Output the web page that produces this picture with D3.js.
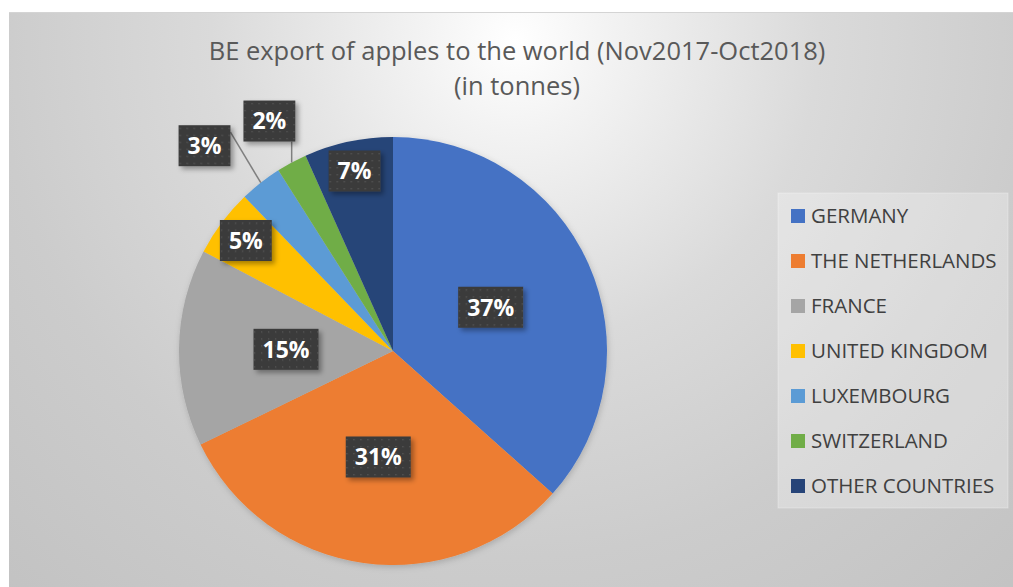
<!DOCTYPE html>
<html>
<head>
<meta charset="utf-8">
<script src="https://cdnjs.cloudflare.com/ajax/libs/d3/7.8.5/d3.min.js"></script>
<style>
  body { margin: 0; background: #fff; }
  svg { display: block; }
</style>
</head>
<body>
<div id="chart-area"></div>
<script>
// data (share of BE apple exports, %)
var categories = ["GERMANY", "THE NETHERLANDS", "FRANCE", "UNITED KINGDOM", "LUXEMBOURG", "SWITZERLAND", "OTHER COUNTRIES"];
var shares = [36.6, 31.2, 14.9, 5.1, 3.2, 2.3, 6.7];
var colours = ["#4472c4", "#ed7d31", "#a5a5a5", "#ffc000", "#5b9bd5", "#70ad47", "#264478"];
var titleLines = ["BE export of apples to the world (Nov2017-Oct2018)", "(in tonnes)"];

var W = 1013, H = 587;
var cx = 393, cy = 351, R = 214;

var svg = d3.select("#chart-area").append("svg")
    .attr("width", W)
    .attr("height", H);

var defs = svg.append("defs");

var bg = defs.append("radialGradient")
    .attr("id", "bg")
    .attr("gradientUnits", "userSpaceOnUse")
    .attr("cx", 515).attr("cy", 40).attr("r", 760);
[[0, "#ffffff"], [0.12, "#f3f3f3"], [0.4, "#dadada"], [0.68, "#cccccc"], [1, "#c2c2c2"]].forEach((s) => {
    bg.append("stop").attr("offset", s[0]).attr("stop-color", s[1]);
});

// dotted dark fill for the data labels
var pat = defs.append("pattern")
    .attr("id", "dots")
    .attr("patternUnits", "userSpaceOnUse")
    .attr("width", 7).attr("height", 7);
pat.append("rect").attr("width", 7).attr("height", 7).attr("fill", "#3b3b3b");
pat.append("rect").attr("x", 3).attr("y", 3).attr("width", 1.3).attr("height", 1.3).attr("fill", "#575757");

var sh = defs.append("filter").attr("id", "shadow")
    .attr("x", "-20%").attr("y", "-20%").attr("width", "150%").attr("height", "150%");
sh.append("feDropShadow").attr("dx", 3).attr("dy", 3).attr("stdDeviation", 2.5)
    .attr("flood-color", "#000").attr("flood-opacity", 0.35);

var psh = defs.append("filter").attr("id", "pieshadow")
    .attr("x", "-10%").attr("y", "-10%").attr("width", "120%").attr("height", "120%");
psh.append("feDropShadow").attr("dx", 1).attr("dy", 2).attr("stdDeviation", 3)
    .attr("flood-color", "#000").attr("flood-opacity", 0.18);

// chart area
svg.append("rect")
    .attr("x", 9).attr("y", 12)
    .attr("width", W - 9).attr("height", 575)
    .attr("fill", "url(#bg)");
svg.append("line")
    .attr("x1", 9).attr("x2", W).attr("y1", 12.5).attr("y2", 12.5)
    .attr("stroke", "#d4d4d4");

// title
svg.selectAll(".title")
    .data(titleLines)
    .enter()
    .append("text")
        .attr("class", "title")
        .attr("x", 517)
        .attr("y", (d, i) => 60 + i * 35)
        .attr("text-anchor", "middle")
        .attr("font-family", "'Open Sans', sans-serif")
        .attr("font-size", 25.5)
        .attr("fill", "#595959")
        .text((d) => d);

// pie
var data = categories.map((c, i) => { return {name: c, v: shares[i], colour: colours[i]}; });
var total = d3.sum(shares);

var pie = d3.pie().sort(null).value((d) => d.v);
var arcs = pie(data);
var arc = d3.arc().innerRadius(0).outerRadius(R);

var g = svg.append("g").attr("transform", "translate(" + cx + "," + cy + ")");

g.append("g").attr("filter", "url(#pieshadow)")
    .selectAll("path")
    .data(arcs)
    .enter()
    .append("path")
        .attr("d", arc)
        .attr("fill", (d) => d.data.colour);

// label positions
var labels = arcs.map((d) => {
    var pct = d.data.v / total * 100;
    var mid = (d.startAngle + d.endAngle) / 2;
    var r = pct >= 10 ? 0.5 * R : (pct >= 5 ? 0.86 * R : 1.22 * R);
    return {
        text: Math.round(pct) + "%",
        mid: mid,
        outside: pct < 5,
        x: r * Math.sin(mid),
        y: -r * Math.cos(mid)
    };
});

var lg = g.append("g");
var boxH = 41;
labels.forEach((l) => {
    var t = lg.append("text")
        .attr("font-family", "'Open Sans', sans-serif")
        .attr("font-weight", "bold")
        .attr("font-size", 23)
        .text(l.text);
    l.w = t.node().getComputedTextLength() + 18;
    t.remove();
});

// push overlapping outside labels apart (right-to-left)
var outs = labels.filter((l) => l.outside).sort((a, b) => b.x - a.x);
for (var i = 1; i < outs.length; i++) {
    var right = outs[i - 1];
    var maxX = right.x - right.w / 2 - 13 - outs[i].w / 2;
    if (outs[i].x > maxX) outs[i].x = maxX;
}

// leader lines
labels.filter((l) => l.outside).forEach((l) => {
    var px = R * Math.sin(l.mid), py = -R * Math.cos(l.mid);
    var x0 = l.x - l.w / 2, x1 = l.x + l.w / 2, y0 = l.y - boxH / 2, y1 = l.y + boxH / 2;
    var sx, sy;
    if (px > x1) { sx = x1; sy = y0 + 7; }
    else { sx = Math.max(x0, Math.min(x1, px)); sy = y1; }
    lg.append("line")
        .attr("x1", sx).attr("y1", sy)
        .attr("x2", px).attr("y2", py)
        .attr("stroke", "#7f7f7f")
        .attr("stroke-width", 1.5);
});

var lab = lg.selectAll(".lab")
    .data(labels)
    .enter()
    .append("g")
        .attr("class", "lab")
        .attr("transform", (d) => "translate(" + d.x + "," + d.y + ")");

lab.append("rect")
    .attr("x", (d) => -d.w / 2)
    .attr("y", -boxH / 2)
    .attr("width", (d) => d.w)
    .attr("height", boxH)
    .attr("fill", "url(#dots)")
    .attr("filter", "url(#shadow)");

lab.append("text")
    .attr("text-anchor", "middle")
    .attr("dy", "0.36em")
    .attr("font-family", "'Open Sans', sans-serif")
    .attr("font-weight", "bold")
    .attr("font-size", 23)
    .attr("fill", "#fff")
    .text((d) => d.text);

// legend
var legend = svg.append("g");
legend.append("rect")
    .attr("x", 778).attr("y", 193)
    .attr("width", 230).attr("height", 315)
    .attr("fill", "#ffffff")
    .attr("fill-opacity", 0.28)
    .attr("stroke", "#ffffff")
    .attr("stroke-opacity", 0.3);

var y = d3.scalePoint()
    .domain(categories)
    .range([216, 486]);

var item = legend.selectAll(".item")
    .data(data)
    .enter()
    .append("g")
        .attr("class", "item")
        .attr("transform", (d) => "translate(791," + y(d.name) + ")");

item.append("rect")
    .attr("x", 0).attr("y", -7)
    .attr("width", 14).attr("height", 14)
    .attr("fill", (d) => d.colour);

item.append("text")
    .attr("x", 20)
    .attr("dy", "0.36em")
    .attr("font-family", "'Open Sans', sans-serif")
    .attr("font-size", 20.5)
    .attr("fill", "#404040")
    .text((d) => d.name);
</script>
</body>
</html>
